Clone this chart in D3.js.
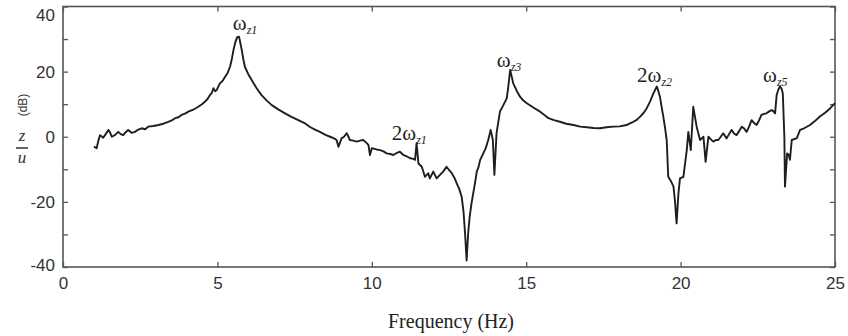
<!DOCTYPE html>
<html>
<head>
<meta charset="utf-8">
<script src="https://cdn.jsdelivr.net/npm/d3@7"></script>
<style>
  body { margin: 0; background: #fff; }
  svg { display: block; }
</style>
</head>
<body>
<svg id="chart"></svg>
<script>
// values
var freq = [1.0,1.09,1.15,1.2,1.3,1.36,1.47,1.53,1.58,1.68,1.79,1.87,1.95,2.03,2.11,2.22,2.33,2.44,2.55,2.66,2.76,2.92,3.09,3.25,3.41,3.52,3.63,3.74,3.84,3.95,4.06,4.22,4.38,4.5,4.6,4.68,4.76,4.82,4.87,4.93,4.98,5.08,5.17,5.25,5.33,5.41,5.47,5.52,5.58,5.64,5.7,5.75,5.79,5.84,5.89,6.0,6.11,6.27,6.43,6.6,6.76,6.97,7.19,7.4,7.62,7.84,8.0,8.16,8.32,8.5,8.65,8.78,8.86,8.92,9.02,9.1,9.19,9.29,9.4,9.51,9.62,9.72,9.82,9.89,9.94,10.0,10.15,10.27,10.38,10.48,10.6,10.7,10.8,10.91,11.02,11.13,11.24,11.35,11.4,11.45,11.51,11.62,11.72,11.83,11.88,11.99,12.1,12.2,12.31,12.42,12.5,12.59,12.67,12.75,12.83,12.91,12.97,13.02,13.07,13.12,13.17,13.23,13.34,13.4,13.45,13.51,13.61,13.69,13.77,13.85,13.92,13.97,14.04,14.15,14.26,14.37,14.42,14.48,14.53,14.58,14.7,14.8,14.9,15.02,15.23,15.45,15.6,15.72,15.9,16.09,16.3,16.53,16.75,16.96,17.18,17.39,17.6,17.82,18.03,18.25,18.36,18.47,18.58,18.69,18.8,18.9,19.01,19.12,19.18,19.23,19.28,19.33,19.38,19.44,19.5,19.55,19.6,19.68,19.77,19.82,19.87,19.93,19.98,20.09,20.2,20.25,20.33,20.41,20.52,20.63,20.74,20.81,20.9,20.98,21.06,21.14,21.22,21.3,21.38,21.49,21.57,21.65,21.73,21.81,21.9,21.98,22.06,22.14,22.22,22.3,22.38,22.46,22.54,22.62,22.7,22.78,22.87,22.95,23.01,23.06,23.11,23.17,23.22,23.27,23.31,23.36,23.38,23.45,23.5,23.54,23.6,23.68,23.76,23.87,24.0,24.19,24.35,24.51,24.68,24.84,25.0];
var mag = [-3.0,-3.5,-1.0,0.5,-0.3,0.5,2.1,1.2,0.0,0.5,1.5,0.8,0.5,1.4,2.1,1.2,1.5,2.2,2.6,2.3,3.1,3.3,3.6,4.0,4.6,5.0,5.7,6.0,6.7,7.1,7.7,8.3,9.2,10.0,10.8,11.6,12.8,13.5,14.9,14.0,14.4,16.4,17.2,18.4,19.6,21.5,24.0,26.6,29.0,30.6,30.7,28.5,26.6,23.8,21.5,19.2,17.4,14.9,12.8,11.1,9.7,8.4,7.2,6.1,5.1,4.1,3.0,2.2,1.5,0.6,0.0,-0.5,-1.0,-3.1,-0.5,0.0,1.1,-1.0,-1.2,-1.5,-1.2,-1.0,-1.8,-2.5,-5.6,-3.5,-3.9,-4.1,-4.5,-5.1,-5.3,-5.6,-5.0,-4.6,-5.6,-6.0,-6.6,-6.8,-7.1,-2.0,-8.2,-9.2,-12.3,-11.2,-12.8,-10.7,-12.8,-11.8,-10.7,-9.2,-10.2,-11.2,-12.5,-14.3,-16.0,-18.4,-23.0,-29.7,-38.0,-29.7,-24.5,-20.4,-14.3,-10.7,-9.5,-7.1,-5.1,-3.5,-1.0,2.1,-1.0,-11.7,1.1,7.7,9.7,11.8,15.4,20.5,18.5,16.4,14.0,12.3,11.2,10.3,9.0,7.7,6.6,5.7,5.1,4.6,4.0,3.6,3.1,2.9,2.7,2.6,2.9,3.1,3.2,3.6,4.1,4.6,5.2,6.2,7.3,8.7,10.8,13.3,14.5,15.4,14.0,12.3,9.5,6.2,2.5,-1.0,-12.3,-13.5,-15.3,-20.0,-26.6,-17.4,-12.8,-12.3,-4.1,1.5,-4.1,9.2,3.1,-1.0,0.0,-7.7,0.0,-0.8,-1.5,-1.0,-1.0,0.0,1.1,-0.5,0.8,2.1,1.0,0.5,1.8,3.1,2.5,1.5,3.2,5.1,4.2,3.6,5.0,6.7,7.0,7.2,7.8,8.2,7.8,7.2,12.8,14.6,15.4,14.8,13.3,0.0,-15.3,-5.1,-5.5,-7.1,-1.0,-0.7,-0.5,2.1,2.6,3.6,4.8,6.2,7.4,8.7,10.3];

var xTicks = [0, 5, 10, 15, 20, 25];
var yTicks = [-40, -30, -20, -10, 0, 10, 20, 30, 40];
var yLabelled = [-40, -20, 0, 20, 40];

// peak labels: base, subscript, position (Hz, dB)
var peakBase = ['\u03c9', '2\u03c9', '\u03c9', '2\u03c9', '\u03c9'];
var peakSub = ['z1', 'z1', 'z3', 'z2', 'z5'];
var peakFreq = [5.5, 10.65, 14.05, 18.59, 22.67];
var peakDb = [32.8, -1.0, 21.4, 16.8, 16.8];

var W = 848, H = 336;
var plotL = 63, plotR = 835, plotT = 6.5, plotB = 267;

var svg = d3.select('#chart').attr('width', W).attr('height', H);

var x = d3.scaleLinear().domain([0, 25]).range([plotL, plotR]);
var y = d3.scaleLinear().domain([-40, 40]).range([plotB, plotT]);

var tickFont = '"Liberation Sans", Arial, sans-serif';
var serif = '"Liberation Serif", "Times New Roman", serif';

// axes, ticks pointing inward
var gx = svg.append('g').attr('transform', 'translate(0,' + plotB + ')')
	.call(d3.axisBottom(x).tickValues(xTicks).tickSize(-5).tickPadding(10));
var gxTop = svg.append('g').attr('transform', 'translate(0,' + plotT + ')')
	.call(d3.axisTop(x).tickValues(xTicks).tickSize(-5).tickFormat(''));
var gy = svg.append('g').attr('transform', 'translate(' + plotL + ',0)')
	.call(d3.axisLeft(y).tickValues(yTicks).tickSize(-5).tickPadding(8)
		.tickFormat(function(d) { return yLabelled.indexOf(d) >= 0 ? d : ''; }));
var gyRight = svg.append('g').attr('transform', 'translate(' + plotR + ',0)')
	.call(d3.axisRight(y).tickValues(yTicks).tickSize(-5).tickFormat(''));

[gx, gxTop, gy, gyRight].forEach(function(g) {
	g.select('.domain').remove();
	g.selectAll('.tick line').attr('stroke', '#555').attr('stroke-width', 1.3);
	g.selectAll('text').attr('font-family', tickFont).attr('font-size', 17).attr('fill', '#333');
});

// the end labels sit a little inside the frame, as in the original
gy.selectAll('.tick text')
	.attr('dy', function(d) { return d === 40 ? '0.82em' : (d === -40 ? '0.2em' : '0.32em'); });

svg.append('rect')
	.attr('x', plotL).attr('y', plotT)
	.attr('width', plotR - plotL).attr('height', plotB - plotT)
	.attr('fill', 'none').attr('stroke', '#555').attr('stroke-width', 1.6);

// the response curve
var line = d3.line()
	.x(function(d, i) { return x(freq[i]); })
	.y(function(d) { return y(d); });

svg.append('path')
	.datum(mag)
	.attr('d', line)
	.attr('fill', 'none')
	.attr('stroke', '#1e1e1e')
	.attr('stroke-width', 1.9)
	.attr('stroke-linejoin', 'round');

// peak annotations
peakBase.forEach(function(b, i) {
	var t = svg.append('text')
		.attr('x', x(peakFreq[i]))
		.attr('y', y(peakDb[i]))
		.attr('font-family', serif)
		.attr('font-size', 21)
		.attr('fill', '#222');
	t.append('tspan').text(b);
	t.append('tspan')
		.attr('dy', 4)
		.attr('font-size', 12)
		.attr('font-style', 'italic')
		.text(peakSub[i]);
});

// x title
svg.append('text')
	.attr('x', (plotL + plotR) / 2 + 2)
	.attr('y', 328)
	.attr('text-anchor', 'middle')
	.attr('font-family', serif)
	.attr('font-size', 20)
	.attr('fill', '#222')
	.text('Frequency (Hz)');

// y title: z over u, with rotated (dB)
svg.append('text')
	.attr('transform', 'translate(27,105) rotate(-90)')
	.attr('text-anchor', 'middle')
	.attr('font-family', tickFont)
	.attr('font-size', 12)
	.attr('fill', '#333')
	.text('(dB)');
svg.append('text')
	.attr('x', 22).attr('y', 141)
	.attr('text-anchor', 'middle')
	.attr('font-family', serif).attr('font-style', 'italic')
	.attr('font-size', 17).attr('fill', '#333')
	.text('z');
svg.append('line')
	.attr('x1', 16).attr('x2', 28)
	.attr('y1', 148).attr('y2', 148)
	.attr('stroke', '#333').attr('stroke-width', 1.5);
svg.append('text')
	.attr('x', 22).attr('y', 163)
	.attr('text-anchor', 'middle')
	.attr('font-family', serif).attr('font-style', 'italic')
	.attr('font-size', 17).attr('fill', '#333')
	.text('u');
</script>
</body>
</html>
